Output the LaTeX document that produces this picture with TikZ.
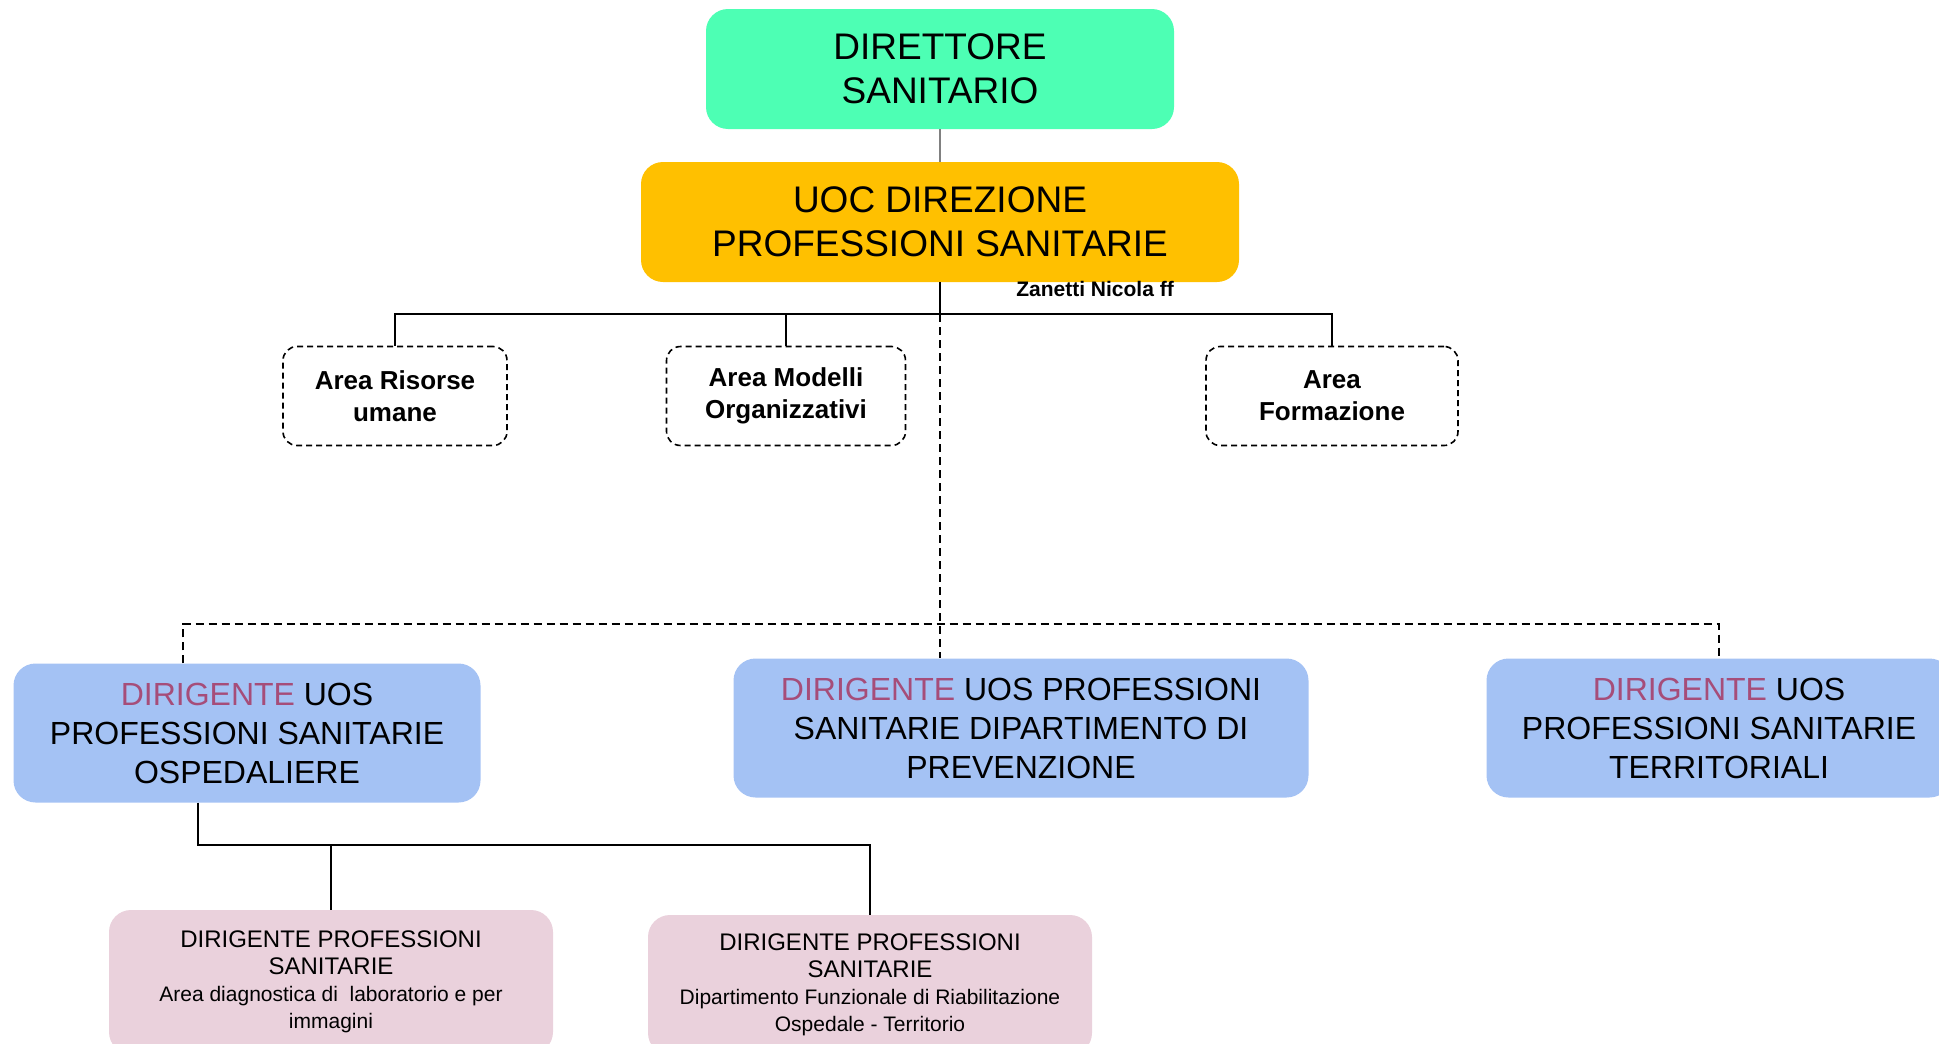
\documentclass[tikz,border=0pt]{standalone}
\usepackage{fontspec}
\setmainfont{Liberation Sans}
\definecolor{dirgreen}{HTML}{4DFFB4}
\definecolor{uocgold}{HTML}{FFC000}
\definecolor{uosblue}{HTML}{A4C2F4}
\definecolor{subpink}{HTML}{EAD1DC}
\definecolor{dirmag}{HTML}{A64D79}
\newcommand{\dirg}{\textcolor{dirmag}{DIRIGENTE}}

\begin{document}
\begin{tikzpicture}[x=1pt,y=-1pt,
  box/.style={rounded corners=22pt, inner sep=0pt, align=center},
  topbox/.style={box, minimum height=120pt, font=\fontsize{37}{44}\selectfont},
  areabox/.style={box, draw, dash pattern=on 6pt off 4pt, line width=1.6pt,
    rounded corners=14pt, minimum height=99pt, font=\bfseries\fontsize{26}{32}\selectfont},
  uosbox/.style={box, fill=uosblue, minimum height=139pt, font=\fontsize{32}{39}\selectfont},
  subbox/.style={box, fill=subpink, minimum width=444pt, font=\fontsize{21}{27}\selectfont},
  link/.style={line width=1.6pt},
  dlink/.style={line width=1.6pt, dash pattern=on 8pt off 5pt}]
  \clip (0,0) rectangle (1939,1044);
  \useasboundingbox (0,0) rectangle (1939,1044);

  % Top of the chart
  \node[topbox, fill=dirgreen, minimum width=468pt] (dir) at (940,69) {DIRETTORE\\SANITARIO};
  \node[topbox, fill=uocgold, minimum width=598pt] (uoc) at (940,222) {UOC DIREZIONE\\PROFESSIONI SANITARIE};
  \node[anchor=east, inner sep=0pt, font=\bfseries\fontsize{21}{25}\selectfont] (nome) at (1174,289) {Zanetti Nicola ff};

  % Staff areas
  \node[areabox, minimum width=224pt] (ris) at (395,396) {Area Risorse\\umane};
  \node[areabox, minimum width=239pt] (mod) at (786,396) {Area Modelli\\Organizzativi};
  \node[areabox, minimum width=252pt] (form) at (1332,396) {Area\\Formazione};

  % UOS
  \node[uosbox, minimum width=467pt] (osp) at (247,733) {\dirg{} UOS\\PROFESSIONI SANITARIE\\OSPEDALIERE};
  \node[uosbox, minimum width=575pt] (prev) at (1021,728) {\dirg{} UOS PROFESSIONI\\SANITARIE DIPARTIMENTO DI\\PREVENZIONE};
  \node[uosbox, minimum width=465pt] (terr) at (1719,728) {\dirg{} UOS\\PROFESSIONI SANITARIE\\TERRITORIALI};

  % Dirigenti (bottom edge runs off the page)
  \node[subbox, minimum height=144pt] (lab) at (331,982)
    {{\fontsize{24}{27}\selectfont DIRIGENTE PROFESSIONI}\\{\fontsize{24}{27}\selectfont SANITARIE}\\Area diagnostica di\ \ laboratorio e per\\immagini};
  \node[subbox, minimum height=140pt] (rif) at (870,985)
    {{\fontsize{24}{27}\selectfont DIRIGENTE PROFESSIONI}\\{\fontsize{24}{27}\selectfont SANITARIE}\\Dipartimento Funzionale di Riabilitazione\\Ospedale - Territorio};

  % Connectors
  \coordinate (hub) at (940,314);
  \coordinate (dl) at (183,624);
  \coordinate (dr) at (1719,624);
  \coordinate (sb) at (198,845);
  \draw[line width=1.2pt, gray] (dir) -- (uoc);
  \draw[link] (uoc.south) -- (hub);
  \draw[link] (ris.north) |- (hub) -| (form.north);
  \draw[link] (mod.north) -- (mod.north |- hub);
  \draw[dlink] (hub) -- (hub |- prev.north);
  \draw[dlink] (dl |- osp.north) -- (dl) -- (dr) -- (terr.north);
  \draw[link] (sb |- osp.south) -- (sb) -- (sb -| rif.north) -- (rif.north);
  \draw[link] (lab.north) -- (lab.north |- sb);
\end{tikzpicture}
\end{document}
